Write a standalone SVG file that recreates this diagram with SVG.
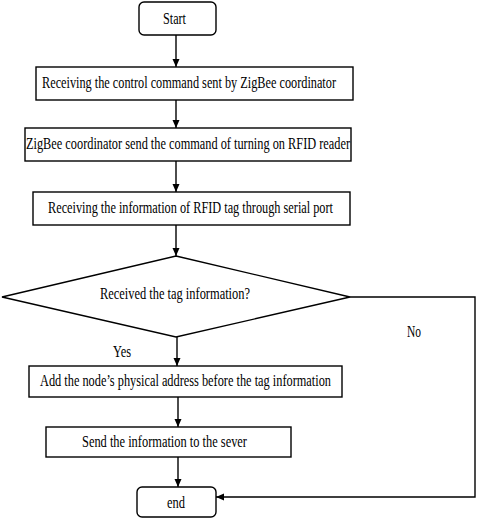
<svg xmlns="http://www.w3.org/2000/svg" width="478" height="520" viewBox="0 0 478 520">
<style>
.b{fill:#fff;stroke:#000;stroke-width:1.4}
.t{font-family:"Liberation Serif","Times New Roman",serif;font-size:16px;fill:#000}
.c{fill:none;stroke:#000;stroke-width:1.4}
</style>
<defs>
<marker id="a" markerWidth="8" markerHeight="8" refX="8" refY="4" orient="auto" markerUnits="userSpaceOnUse">
<path d="M0,0.5 L8,4 L0,7.5 Z" fill="#000"/>
</marker>
</defs>
<rect width="478" height="520" fill="#fff"/>
<g id="connectors">
<line class="c" x1="176" y1="35" x2="176" y2="67" marker-end="url(#a)"/>
<line class="c" x1="176" y1="100" x2="176" y2="128" marker-end="url(#a)"/>
<line class="c" x1="176" y1="161" x2="176" y2="192" marker-end="url(#a)"/>
<line class="c" x1="176" y1="225" x2="176" y2="256" marker-end="url(#a)"/>
<line class="c" x1="177" y1="337" x2="177" y2="366" marker-end="url(#a)"/>
<line class="c" x1="178" y1="397" x2="178" y2="427" marker-end="url(#a)"/>
<line class="c" x1="178" y1="457" x2="178" y2="487" marker-end="url(#a)"/>
<polyline class="c" points="350,297 475,297 475,497 216,497" marker-end="url(#a)"/>
<text class="t" x="113" y="357" textLength="18" lengthAdjust="spacingAndGlyphs">Yes</text>
<text class="t" x="407" y="337" textLength="14" lengthAdjust="spacingAndGlyphs">No</text>
</g>
<g id="start">
<rect class="b" x="139" y="2" width="77" height="33" rx="5"/>
<text class="t" x="163" y="24" textLength="23" lengthAdjust="spacingAndGlyphs">Start</text>
</g>
<g id="box1">
<rect class="b" x="36" y="67" width="317" height="33"/>
<text class="t" x="42" y="88" textLength="294" lengthAdjust="spacingAndGlyphs">Receiving the control command sent by ZigBee coordinator</text>
</g>
<g id="box2">
<rect class="b" x="25" y="128" width="326" height="33"/>
<text class="t" x="26" y="149" textLength="324" lengthAdjust="spacingAndGlyphs">ZigBee coordinator send the command of turning on RFID reader</text>
</g>
<g id="box3">
<rect class="b" x="33" y="192" width="317" height="33"/>
<text class="t" x="48" y="213" textLength="285" lengthAdjust="spacingAndGlyphs">Receiving the information of RFID tag through serial port</text>
</g>
<g id="decision">
<polygon class="b" points="176,256 350,297 176,337 2,297"/>
<text class="t" x="100" y="299" textLength="150" lengthAdjust="spacingAndGlyphs">Received the tag information?</text>
</g>
<g id="box4">
<rect class="b" x="29" y="366" width="313" height="31"/>
<text class="t" x="40" y="386" textLength="291" lengthAdjust="spacingAndGlyphs">Add the node’s physical address before the tag information</text>
</g>
<g id="box5">
<rect class="b" x="46" y="427" width="245" height="30"/>
<text class="t" x="82" y="447" textLength="165" lengthAdjust="spacingAndGlyphs">Send the information to the sever</text>
</g>
<g id="end">
<rect class="b" x="137" y="487" width="79" height="30" rx="5"/>
<text class="t" x="167" y="508" textLength="18" lengthAdjust="spacingAndGlyphs">end</text>
</g>
</svg>
